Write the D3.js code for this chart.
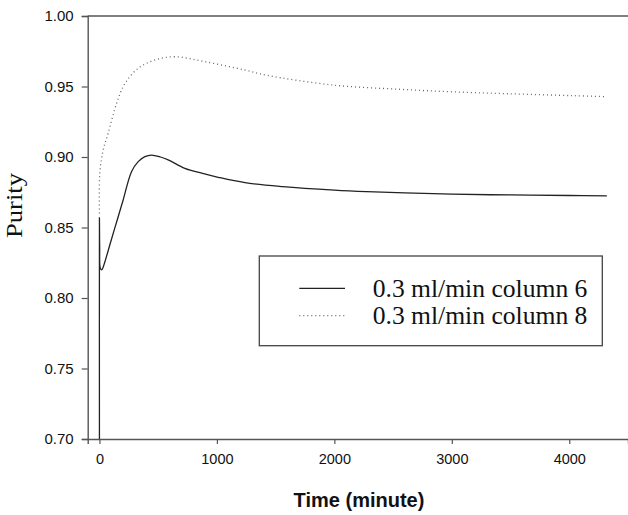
<!DOCTYPE html>
<html>
<head>
<meta charset="utf-8">
<script src="https://cdn.jsdelivr.net/npm/d3@7"></script>
<style>
  html, body { margin: 0; padding: 0; background: #fff; }
  svg { display: block; }
</style>
</head>
<body>
<script>
// ---- data ----
const xTicks = [0, 1000, 2000, 3000, 4000];
const yTicks = [0.70, 0.75, 0.80, 0.85, 0.90, 0.95, 1.00];

const seriesNames = ["0.3 ml/min column 6", "0.3 ml/min column 8"];

const col6Time  = [0, 0, 2, 8, 20, 32, 100, 150, 200, 273, 330, 387, 444, 520, 585, 727, 870, 1011, 1239, 1560, 2000, 2275, 2600, 3000, 3500, 4000, 4320];
const col6Value = [0.700, 0.857, 0.836, 0.821, 0.820, 0.822, 0.841, 0.855, 0.869, 0.8896, 0.8967, 0.9003, 0.9014, 0.9000, 0.898, 0.892, 0.8885, 0.8856, 0.8818, 0.8790, 0.8765, 0.8754, 0.8745, 0.8736, 0.8731, 0.8727, 0.8724];

const col8Time  = [0, 3, 32, 74, 146, 216, 330, 472, 642, 898, 1239, 1423, 1991, 2559, 2985, 3468, 4033, 4320];
const col8Value = [0.860, 0.8885, 0.905, 0.9168, 0.938, 0.952, 0.9629, 0.9688, 0.9711, 0.9676, 0.9617, 0.958, 0.951, 0.948, 0.9463, 0.9449, 0.9435, 0.9428];

// ---- layout ----
const W = 628, H = 515;
const mLeft = 87.7, mRight = 628, mTop = 16, mBottom = 439;

const svg = d3.select("body").append("svg").attr("width", W).attr("height", H);

const x = d3.scaleLinear().domain([-100, 4500]).range([mLeft, mRight]);
const y = d3.scaleLinear().domain([0.70, 1.00]).range([mBottom, mTop]);

const axisColor = "#555";

// top frame line
svg.append("line")
  .attr("x1", mLeft).attr("x2", mRight).attr("y1", mTop).attr("y2", mTop)
  .attr("stroke", axisColor).attr("stroke-width", 1.4);

// y axis
const gy = svg.append("g").attr("transform", `translate(${mLeft},0)`)
  .call(d3.axisLeft(y).tickValues(yTicks).tickFormat(d3.format(".2f")).tickSize(6).tickPadding(8));
gy.select(".domain").attr("stroke", axisColor).attr("stroke-width", 1.4);
gy.selectAll(".tick line").attr("stroke", axisColor).attr("stroke-width", 1.2);
gy.selectAll(".tick text").attr("font-family", "'Liberation Sans', Arial, sans-serif")
  .attr("font-size", 15).attr("fill", "#111");

// x axis
const gx = svg.append("g").attr("transform", `translate(0,${mBottom})`)
  .call(d3.axisBottom(x).tickValues(xTicks).tickFormat(d3.format("d")).tickSize(5).tickPadding(10));
gx.select(".domain").attr("stroke", axisColor).attr("stroke-width", 1.4);
gx.selectAll(".tick line").attr("stroke", axisColor).attr("stroke-width", 1.2);
gx.selectAll(".tick text").attr("font-family", "'Liberation Sans', Arial, sans-serif")
  .attr("font-size", 14.5).attr("fill", "#111");

// axis titles
svg.append("text")
  .attr("x", 359).attr("y", 506.5).attr("text-anchor", "middle")
  .attr("font-family", "'Liberation Sans', Arial, sans-serif")
  .attr("font-weight", "bold").attr("font-size", 20).attr("fill", "#111")
  .text("Time (minute)");

svg.append("text")
  .attr("transform", "translate(21.5,205.5) rotate(-90)")
  .attr("text-anchor", "middle")
  .attr("font-family", "'Liberation Serif', 'Times New Roman', serif")
  .attr("font-size", 22.5).attr("fill", "#111")
  .attr("textLength", 65).attr("lengthAdjust", "spacingAndGlyphs")
  .text("Purity");

// clip to plot
svg.append("clipPath").attr("id", "plot")
  .append("rect").attr("x", mLeft).attr("y", mTop).attr("width", mRight - mLeft).attr("height", mBottom - mTop);

const line = d3.line().x(d => x(d[0])).y(d => y(d[1])).curve(d3.curveCatmullRom.alpha(0.5));

const col6 = col6Time.map((t, i) => [t, col6Value[i]]);
const col8 = col8Time.map((t, i) => [t, col8Value[i]]);

const styles = [
  { stroke: "#222", width: 1.3, dash: null },
  { stroke: "#666", width: 1.3, dash: "1,3" }
];

const plot = svg.append("g").attr("clip-path", "url(#plot)");
[col6, col8].forEach((data, i) => {
  plot.append("path").datum(data)
    .attr("d", line)
    .attr("fill", "none")
    .attr("stroke", styles[i].stroke)
    .attr("stroke-width", styles[i].width)
    .attr("stroke-dasharray", styles[i].dash);
});

// legend
const lg = svg.append("g");
lg.append("rect")
  .attr("x", 259.3).attr("y", 256).attr("width", 343).attr("height", 89.7)
  .attr("fill", "#fff").attr("stroke", "#444").attr("stroke-width", 1.3);
const rowY = [288.3, 315.7];
seriesNames.forEach((name, i) => {
  lg.append("line")
    .attr("x1", 299.3).attr("x2", 345).attr("y1", rowY[i]).attr("y2", rowY[i])
    .attr("stroke", styles[i].stroke).attr("stroke-width", styles[i].width)
    .attr("stroke-dasharray", styles[i].dash);
  lg.append("text")
    .attr("x", 372.7).attr("y", rowY[i] + 8.6)
    .attr("font-family", "'Liberation Serif', 'Times New Roman', serif")
    .attr("font-size", 25.6).attr("fill", "#111")
    .text(name);
});
</script>
</body>
</html>
